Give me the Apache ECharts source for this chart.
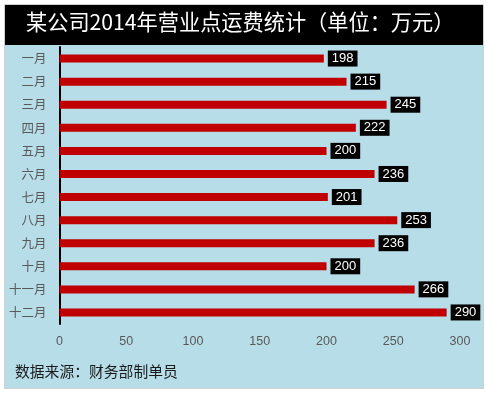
<!DOCTYPE html>
<html><head><meta charset="utf-8">
<script src="https://cdn.jsdelivr.net/npm/echarts@6/dist/echarts.min.js"></script>
<style>html,body{margin:0;padding:0;background:#fff;}#c{width:487px;height:393px;}</style>
</head><body><div id="c"></div>
<script>
const titleText = '某公司2014年营业点运费统计（单位：万元）';
const months = ['一月','二月','三月','四月','五月','六月','七月','八月','九月','十月','十一月','十二月'];
const costs = [198,215,245,222,200,236,201,253,236,200,266,290];
const xTicks = [0,50,100,150,200,250,300];
const source = '数据来源：财务部制单员';

const chart = echarts.init(document.getElementById('c'), null, {renderer:'canvas'});
chart.setOption({
  animation:false,
  backgroundColor:'#ffffff',
  graphic:[
    {type:'rect', z:-10, shape:{x:4.5,y:4.5,width:479,height:384}, style:{fill:'#b7dde8', stroke:'#d0d0d0', lineWidth:1}},
    {type:'rect', z:-9, shape:{x:5,y:5,width:478,height:40}, style:{fill:'#000000'}},
    {type:'text', left:26, top:11, style:{text:titleText, fill:'#ffffff', font:'21.2px "Noto Sans CJK SC", sans-serif'}},
    {type:'text', left:15, top:364, style:{text:source, fill:'#1a1a1a', font:'14.8px "Noto Sans CJK SC", sans-serif'}}
  ],
  grid:{left:59.5, right:27, top:47, bottom:69, containLabel:false},
  xAxis:{type:'value', min:0, max:300, interval:50,
    axisLine:{show:false}, axisTick:{show:false}, splitLine:{show:false},
    axisLabel:{color:'#595959', fontSize:12.5, margin:11, fontFamily:'"Liberation Sans", Arial, sans-serif',
      formatter:v=>xTicks.includes(v)?String(v):''}},
  yAxis:{type:'category', data:months, inverse:true,
    axisLine:{show:true, lineStyle:{color:'#000', width:2}}, axisTick:{show:false},
    axisLabel:{color:'#595959', fontSize:12.5, margin:13, fontFamily:'"Noto Sans CJK SC", sans-serif'}},
  series:[{type:'bar', data:costs, barWidth:8, itemStyle:{color:'#c00000'},
    label:{show:true, position:'right', distance:4, color:'#ffffff', backgroundColor:'#000000',
      padding:[2,4,1,4], fontSize:13, fontFamily:'"Liberation Sans", Arial, sans-serif'}}]
});
</script></body></html>
